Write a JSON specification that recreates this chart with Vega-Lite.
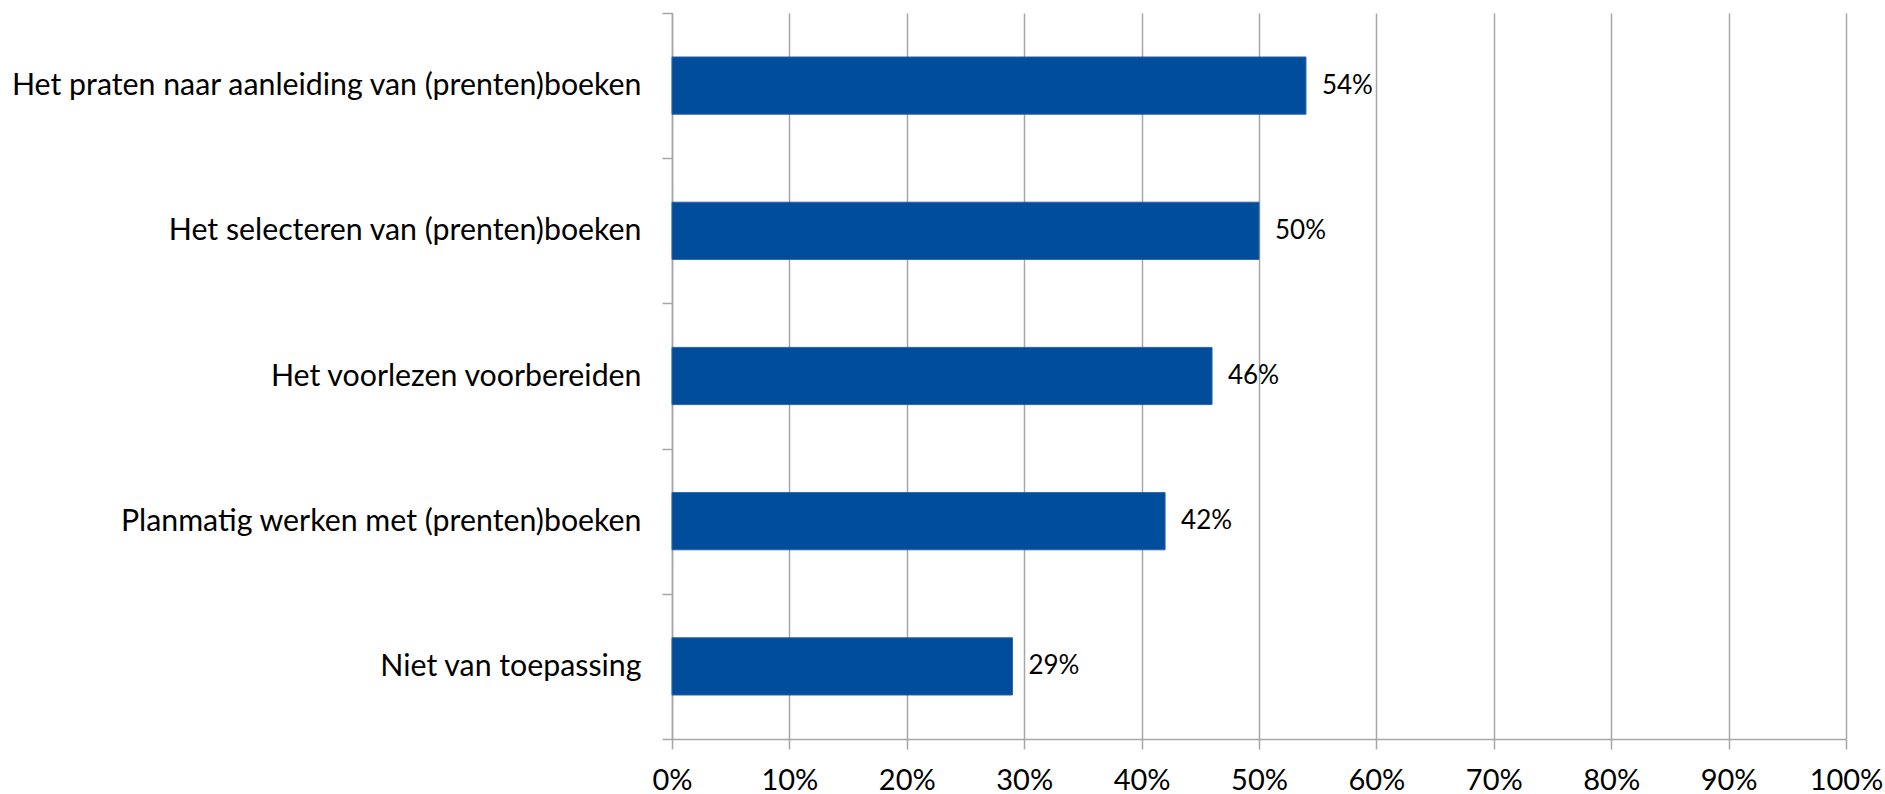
{
  "$schema": "https://vega.github.io/schema/vega-lite/v6.json",
  "width": 1174,
  "height": 726,
  "autosize": {"type": "none"},
  "padding": {"left": 672, "top": 13, "right": 39, "bottom": 55},
  "background": "white",
  "data": {
    "values": [
      {"item": "Het praten naar aanleiding van (prenten)boeken", "pct": 0.54},
      {"item": "Het selecteren van (prenten)boeken", "pct": 0.50},
      {"item": "Het voorlezen voorbereiden", "pct": 0.46},
      {"item": "Planmatig werken met (prenten)boeken", "pct": 0.42},
      {"item": "Niet van toepassing", "pct": 0.29}
    ]
  },
  "config": {
    "view": {"stroke": null},
    "font": "Lato"
  },
  "encoding": {
    "y": {
      "field": "item",
      "type": "nominal",
      "sort": null,
      "title": null,
      "scale": {"paddingInner": 0, "paddingOuter": 0},
      "axis": {
        "domainColor": "#A6A6A6",
        "domainWidth": 1.5,
        "tickColor": "#A6A6A6",
        "tickWidth": 1.5,
        "tickSize": 10,
        "tickBand": "extent",
        "grid": false,
        "labelFont": "Lato",
        "labelFontSize": 30.3,
        "labelColor": "#000000",
        "labelPadding": 21,
        "labelLimit": 0
      }
    },
    "x": {
      "field": "pct",
      "type": "quantitative",
      "title": null,
      "scale": {"domain": [0, 1], "nice": false},
      "axis": {
        "values": [0, 0.1, 0.2, 0.3, 0.4, 0.5, 0.6, 0.7, 0.8, 0.9, 1],
        "format": ".0%",
        "domainColor": "#A6A6A6",
        "domainWidth": 1.5,
        "tickColor": "#A6A6A6",
        "tickWidth": 1.5,
        "tickSize": 10,
        "grid": true,
        "gridColor": "#A6A6A6",
        "gridWidth": 1.5,
        "labelFont": "Lato",
        "labelFontSize": 29,
        "labelColor": "#000000",
        "labelPadding": 17,
        "labelFlush": false
      }
    }
  },
  "layer": [
    {"mark": {"type": "bar", "height": {"band": 0.394}, "color": "#004D9B", "stroke": "#2E62A8", "strokeWidth": 1}},
    {
      "mark": {"type": "text", "align": "left", "baseline": "middle", "dx": 16, "fontSize": 26, "font": "Lato", "color": "#000000"},
      "encoding": {"text": {"field": "pct", "type": "quantitative", "format": ".0%"}}
    }
  ]
}
